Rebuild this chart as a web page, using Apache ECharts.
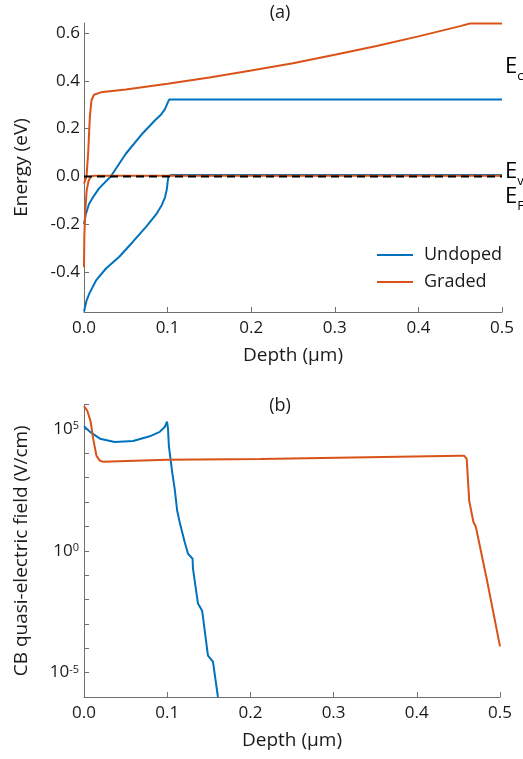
<!DOCTYPE html>
<html><head><meta charset="utf-8">
<script src="https://cdn.jsdelivr.net/npm/echarts@6/dist/echarts.min.js"></script>
<style>html,body{margin:0;padding:0;background:#fff}#c{width:523px;height:759px}</style>
</head><body><div id="c"></div>
<script>
const FONT = '"Open Sans", "Noto Sans", sans-serif';
const TXT = '#1a1a1a';
const AX = '#707070';
const BLUE = '#0072BD';
const ORANGE = '#D95319';

// ---- (a) band diagram: depth (um) vs energy (eV)
const undopedCbDepth  = [0, 0.002, 0.006, 0.012, 0.018, 0.032, 0.050, 0.070, 0.085, 0.092, 0.097, 0.100, 0.102, 0.5];
const undopedCbEnergy = [-0.20, -0.16, -0.115, -0.08, -0.05, 0.0, 0.095, 0.18, 0.235, 0.258, 0.283, 0.308, 0.322, 0.322];
const undopedVbDepth  = [0, 0.003, 0.0063, 0.0144, 0.0263, 0.0422, 0.0583, 0.0742, 0.086, 0.093, 0.097, 0.099, 0.100, 0.101, 0.104, 0.5];
const undopedVbEnergy = [-0.565, -0.52, -0.49, -0.435, -0.385, -0.336, -0.274, -0.211, -0.16, -0.12, -0.086, -0.055, -0.025, 0.0, 0.006, 0.006];
const gradedCbDepth   = [0, 0.003, 0.005, 0.007, 0.009, 0.012, 0.02, 0.05, 0.1, 0.15, 0.2, 0.25, 0.3, 0.35, 0.4, 0.45, 0.4617, 0.5];
const gradedCbEnergy  = [-0.03, 0.0, 0.10, 0.25, 0.32, 0.342, 0.352, 0.364, 0.388, 0.414, 0.443, 0.474, 0.509, 0.546, 0.586, 0.629, 0.640, 0.640];
const gradedVbDepth   = [0, 0.0004, 0.0016, 0.0032, 0.0056, 0.0084, 0.012, 0.5];
const gradedVbEnergy  = [-0.38, -0.25, -0.14, -0.058, -0.017, 0.0, 0.003, 0.003];
const fermiDepth      = [0, 0.5];
const fermiEnergy     = [0, 0];

// ---- (b) CB quasi-electric field (V/cm), log scale
const undopedFieldDepth = [0, 0.0072, 0.0192, 0.037, 0.059, 0.079, 0.091, 0.097, 0.0998, 0.101, 0.102, 0.106, 0.109, 0.112, 0.115, 0.121, 0.125, 0.1305, 0.131, 0.137, 0.142, 0.149, 0.155, 0.161];
const undopedField      = [1.3e5, 7.6e4, 4.0e4, 2.9e4, 3.2e4, 5.0e4, 7.6e4, 1.2e5, 2.0e5, 1.0e5, 2.0e4, 1.7e3, 350, 44, 15, 2.3, 0.76, 0.47, 0.18, 6.8e-3, 3.5e-3, 5e-5, 2.8e-5, 1.0e-6];
const gradedFieldDepth  = [0, 0.004, 0.008, 0.011, 0.015, 0.019, 0.023, 0.1, 0.212, 0.452, 0.457, 0.460, 0.463, 0.465, 0.468, 0.471, 0.484, 0.5];
const gradedField       = [8.7e5, 5.6e5, 2.0e5, 4.0e4, 7.9e3, 5.0e3, 4.5e3, 5.4e3, 5.9e3, 7.9e3, 7.9e3, 5.9e3, 112, 100, 15.5, 9.5, 0.071, 1.2e-4];

const legendNames = ['Undoped', 'Graded'];
const bandLabels = [['E', 'c', 0.463], ['E', 'v', 0.025], ['E', 'F', -0.08]];

const zip = (a, b) => a.map((v, i) => [v, b[i]]);

const chart = echarts.init(document.getElementById('c'), null, {renderer: 'canvas'});

const baseX = (gi, name) => ({
  type: 'value', gridIndex: gi, min: 0, max: 0.5, interval: 0.1,
  axisLine: {show: true, onZero: false, lineStyle: {color: AX, width: 1}},
  axisTick: {show: true, inside: true, length: 5, lineStyle: {color: AX}},
  splitLine: {show: false},
  axisLabel: {fontSize: 17, color: TXT, fontFamily: FONT, margin: 8, formatter: v => v.toFixed(1)},
  name: name, nameLocation: 'middle', nameGap: 34,
  nameTextStyle: {fontSize: 19, color: TXT, fontFamily: FONT}
});

const line = (name, xi, yi, data, color, extra) => Object.assign({
  type: 'line', name: name, xAxisIndex: xi, yAxisIndex: yi, data: data,
  showSymbol: false, symbol: 'none', smooth: false, animation: false,
  lineStyle: {color: color, width: 2}, itemStyle: {color: color}
}, extra || {});

const option = {
  animation: false,
  backgroundColor: '#fff',
  textStyle: {fontFamily: FONT},
  grid: [
    {left: 84, right: 21, top: 23, height: 289},
    {left: 84, right: 23, top: 404.6, height: 292.4}
  ],
  xAxis: [baseX(0, 'Depth (\u03bcm)'), baseX(1, 'Depth (\u03bcm)')],
  yAxis: [
    {
      type: 'value', gridIndex: 0, min: -0.567, max: 0.642, splitNumber: 6,
      axisLine: {show: true, lineStyle: {color: AX, width: 1}},
      axisTick: {show: true, inside: true, length: 5, lineStyle: {color: AX}},
      splitLine: {show: false},
      axisLabel: {fontSize: 17, color: TXT, fontFamily: FONT, margin: 4, showMinLabel: false, showMaxLabel: false,
        formatter: v => {
          const r = Math.round(v * 5) / 5;
          return Math.abs(r - v) < 1e-6 ? r.toFixed(1) : '';
        }},
      name: 'Energy (eV)', nameLocation: 'middle', nameGap: 53,
      nameTextStyle: {fontSize: 19, color: TXT, fontFamily: FONT}
    },
    {
      type: 'log', logBase: 10, gridIndex: 1, min: 1e-6, max: 1e6, interval: 1,
      axisLine: {show: true, lineStyle: {color: AX, width: 1}},
      axisTick: {show: true, inside: true, length: 5, lineStyle: {color: AX}},
      splitLine: {show: false}, minorTick: {show: false},
      axisLabel: {fontSize: 17, color: TXT, fontFamily: FONT, margin: 5,
        formatter: v => {
          const e = Math.round(Math.log10(v));
          return (e % 5 === 0) ? '10{s|' + e + '}' : '';
        },
        rich: {s: {fontSize: 11, verticalAlign: 'top', color: TXT, fontFamily: FONT, lineHeight: 11}}
      },
      name: 'CB quasi-electric field (V/cm)', nameLocation: 'middle', nameGap: 53,
      nameTextStyle: {fontSize: 19, color: TXT, fontFamily: FONT}
    }
  ],
  legend: {
    data: legendNames,
    orient: 'vertical', left: 372, top: 241,
    itemWidth: 36, itemHeight: 2, itemGap: 9, icon: 'rect',
    textStyle: {fontSize: 18, color: TXT, fontFamily: FONT, padding: [0, 0, 0, 6]}
  },
  series: [
    line('Undoped', 0, 0, zip(undopedCbDepth, undopedCbEnergy), BLUE),
    line('Undoped', 0, 0, zip(undopedVbDepth, undopedVbEnergy), BLUE),
    line('Graded', 0, 0, zip(gradedCbDepth, gradedCbEnergy), ORANGE),
    line('Graded', 0, 0, zip(gradedVbDepth, gradedVbEnergy), ORANGE),
    line('EF', 0, 0, zip(fermiDepth, fermiEnergy), '#000', {lineStyle: {color: '#000', width: 2, type: [8, 5]}, z: 5}),
    line('Undoped', 1, 1, zip(undopedFieldDepth, undopedField), BLUE),
    line('Graded', 1, 1, zip(gradedFieldDepth, gradedField), ORANGE)
  ],
  graphic: [
    {type: 'text', x: 280, y: 13, style: {text: '(a)', fontSize: 18, fontFamily: FONT, fill: TXT, align: 'center', verticalAlign: 'middle'}},
    {type: 'text', x: 280, y: 406, style: {text: '(b)', fontSize: 18, fontFamily: FONT, fill: TXT, align: 'center', verticalAlign: 'middle'}}
  ]
};

chart.setOption(option);

// band edge labels placed next to the right end of the (a) axis, using the axis scale
const labelG = bandLabels.map(b => {
  const p = chart.convertToPixel({gridIndex: 0}, [0.5, b[2]]);
  return {type: 'text', x: p[0] + 3, y: p[1], style: {
    text: '{e|' + b[0] + '}{s|' + b[1] + '}', align: 'left', verticalAlign: 'middle',
    rich: {
      e: {fontSize: 22, fontFamily: FONT, color: TXT, lineHeight: 24, verticalAlign: 'bottom'},
      s: {fontSize: 13, fontFamily: FONT, color: TXT, lineHeight: 14, verticalAlign: 'bottom', padding: [0, 0, -5, 0]}
    }}};
});
chart.setOption({graphic: option.graphic.concat(labelG)});
</script></body></html>
